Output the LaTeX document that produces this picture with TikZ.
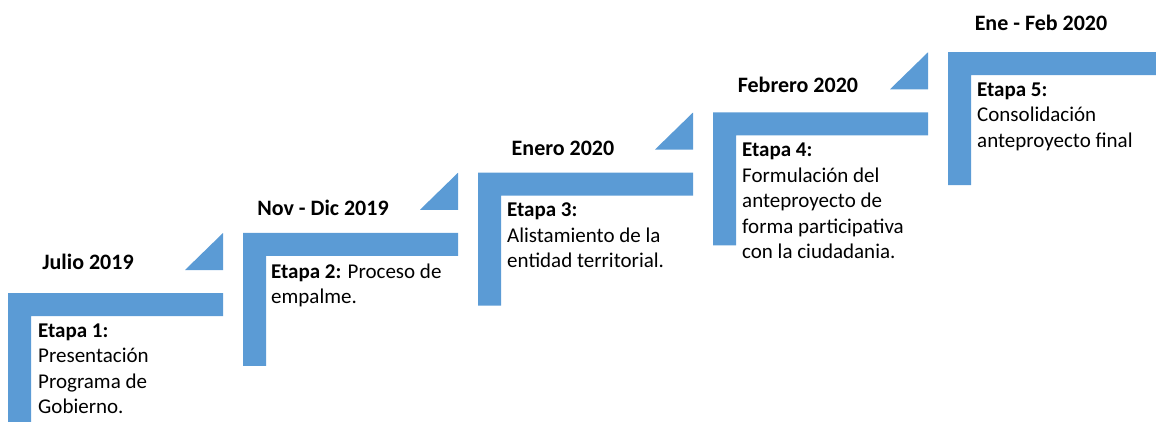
\documentclass[tikz,border=0pt]{standalone}
\usepackage{fontspec}
\setmainfont{Carlito}
\usetikzlibrary{calc}
\definecolor{stepblue}{HTML}{5B9BD5}
\tikzset{
  stepbar/.style  = {fill=stepblue, draw=none},
  stepflag/.style = {fill=stepblue, draw=none},
  period/.style   = {font=\fontsize{22}{26}\selectfont\bfseries,
                     anchor=base, inner sep=0pt},
  stage/.style    = {font=\fontsize{21}{25.5}\selectfont,
                     align=left, anchor=north west, inner sep=0pt,
                     execute at begin node=\strut}
}

\begin{document}
\begin{tikzpicture}[x=1pt, y=-1pt]
  \useasboundingbox (0,0) rectangle (1156,421);
  % staircase of bars
  \foreach \n/\x/\y in {1/8/293, 2/243/232.75, 3/478/172.5, 4/713/112.25, 5/948/52} {
    \fill[stepbar] (\x,\y) -- ++(215,0) -- ++(0,23) -- ++(-192,0)
      -- ++(0,110) -- ++(-23,0) -- cycle;
    \coordinate (corner-\n) at (\x,\y);
  }
  \foreach \n in {1,...,4} {
    \fill[stepflag] ($(corner-\n)+(177,-23)$) -- ++(38,0) -- ++(0,-37) -- cycle;
  }
  % periods
  \node[period] (period-1) at (88,269)  {Julio 2019};
  \node[period] (period-2) at (323,215) {Nov - Dic 2019};
  \node[period] (period-3) at (563,155) {Enero 2020};
  \node[period] (period-4) at (798,92)  {Febrero 2020};
  \node[period] (period-5) at (1041,30) {Ene - Feb 2020};
  % stages, first baseline about 48pt below the bar top
  \node[stage] (stage-1) at ($(corner-1)+(30,30.5)$)
    {\textbf{Etapa 1:}\\Presentación\\Programa de\\Gobierno.};
  \node[stage] (stage-2) at ($(corner-2)+(28,30.5)$)
    {\textbf{Etapa 2:} Proceso de\\empalme.};
  \node[stage] (stage-3) at ($(corner-3)+(29,30.5)$)
    {\textbf{Etapa 3:}\\Alistamiento de la\\entidad territorial.};
  \node[stage] (stage-4) at ($(corner-4)+(29,30.5)$)
    {\textbf{Etapa 4:}\\Formulación del\\anteproyecto de\\forma participativa\\con la ciudadania.};
  \node[stage] (stage-5) at ($(corner-5)+(29,30.5)$)
    {\textbf{Etapa 5:}\\Consolidación\\anteproyecto final};
\end{tikzpicture}
\end{document}
